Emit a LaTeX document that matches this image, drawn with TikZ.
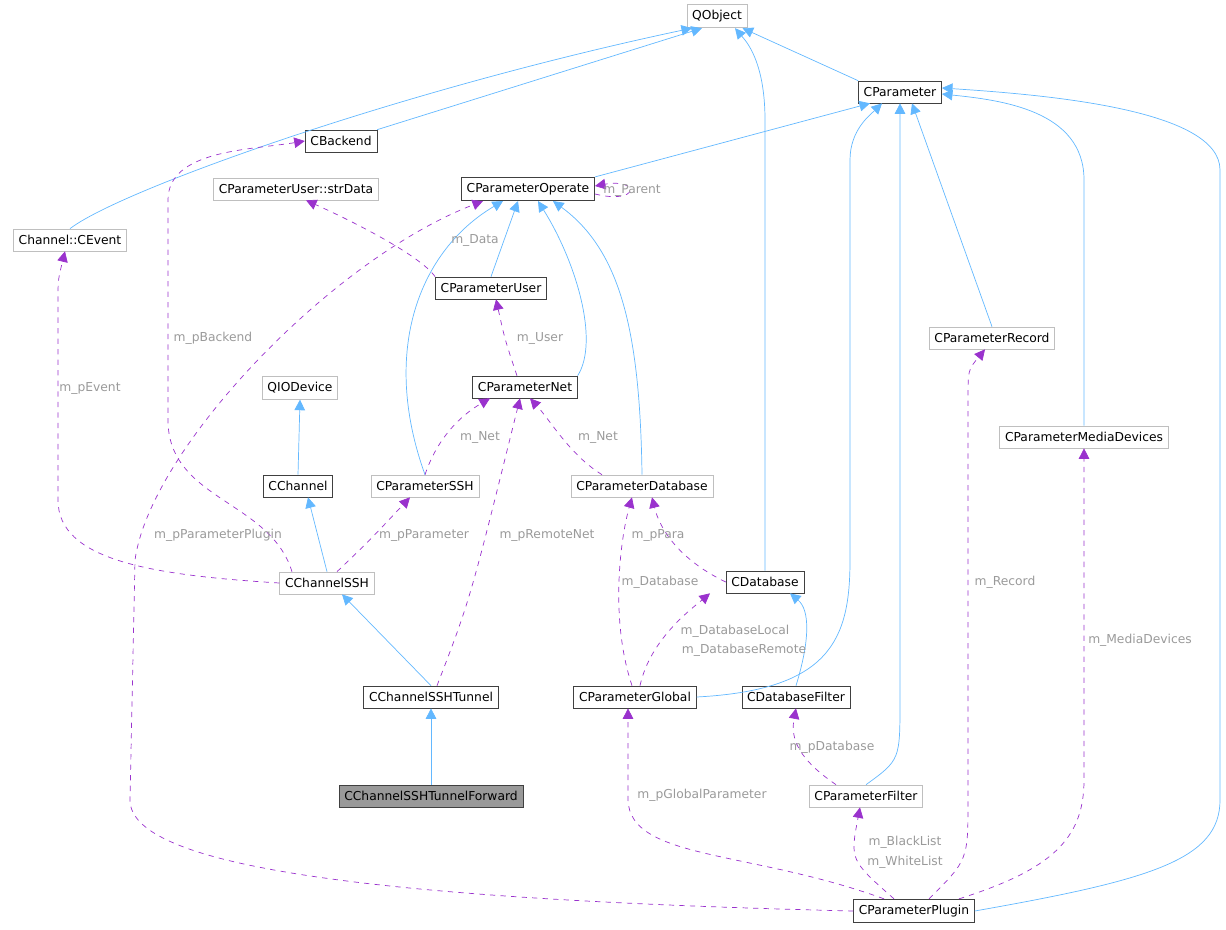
\documentclass[tikz,border=0pt]{standalone}
\usepackage{fontspec}
\setmainfont{DejaVu Sans}
\usetikzlibrary{arrows.meta,calc}
\definecolor{inhblue}{HTML}{63B8FF}
\definecolor{usepurple}{HTML}{9A32CD}
\definecolor{lblgray}{HTML}{9A9A9A}
\definecolor{boxdark}{HTML}{404040}
\definecolor{boxlight}{HTML}{BFBFBF}
\tikzset{
  cls/.style={draw=boxdark,rectangle,minimum height=12.5pt,inner xsep=3pt,font=\fontsize{7}{8}\selectfont},
  ext/.style={cls,draw=boxlight},
  inh/.style={draw=inhblue,-{Triangle[length=6pt,width=6pt]}},
  usg/.style={draw=usepurple,dashed,-{Triangle[length=6pt,width=6pt]}},
  lbl/.style={text=lblgray,font=\fontsize{7}{8}\selectfont}
}
\begin{document}
\begin{tikzpicture}[x=0.02cm,y=-0.02cm]
\useasboundingbox (0,0) rectangle (1226,929);

%CLASSES
\node[ext] (QObject) at (717,16) {QObject};
\node[cls] (CParameter) at (900,92) {CParameter};
\node[cls] (CBackend) at (341,141) {CBackend};
\node[cls] (CParameterOperate) at (528,189) {CParameterOperate};
\node[ext] (strData) at (296,189) {CParameterUser::strData};
\node[ext] (CEvent) at (70,240) {Channel::CEvent};
\node[cls] (CParameterUser) at (491,288) {CParameterUser};
\node[ext] (CParameterRecord) at (992,338) {CParameterRecord};
\node[ext] (QIODevice) at (300,388) {QIODevice};
\node[cls] (CParameterNet) at (525,387) {CParameterNet};
\node[ext] (CParameterMediaDevices) at (1084,437) {CParameterMediaDevices};
\node[cls] (CChannel) at (298,486) {CChannel};
\node[ext] (CParameterSSH) at (425,486) {CParameterSSH};
\node[ext] (CParameterDatabase) at (642,486) {CParameterDatabase};
\node[ext] (CChannelSSH) at (327,583) {CChannelSSH};
\node[cls] (CDatabase) at (765,582) {CDatabase};
\node[cls] (CChannelSSHTunnel) at (431,697) {CChannelSSHTunnel};
\node[cls] (CParameterGlobal) at (635,697) {CParameterGlobal};
\node[cls] (CDatabaseFilter) at (796,697) {CDatabaseFilter};
\node[cls,fill=black!40] (CChannelSSHTunnelForward) at (431,796) {CChannelSSHTunnelForward};
\node[ext] (CParameterFilter) at (866,796) {CParameterFilter};
\node[cls] (CParameterPlugin) at (914,911) {CParameterPlugin};

%INHERITANCE
\draw[inh] (CEvent.north) .. controls (120,190) and (400,90) .. ($(QObject.south)+(-25,0)$);
\draw[inh] (CBackend.north east) -- ($(QObject.south)+(-15,0)$);
\draw[inh] (CDatabase.north) -- (765,120) .. controls (765,60) and (745,40) .. ($(QObject.south)+(18,0)$);
\draw[inh] (CParameter.north west) -- ($(QObject.south east)+(-5,0)$);
\draw[inh] (CParameterOperate.north east) -- ($(CParameter.south)+(-30,0)$);
\draw[inh] (CParameterUser.north) -- ($(CParameterOperate.south)+(-10,0)$);
\draw[inh] (CParameterNet.north east) .. controls (600,340) and (575,260) .. ($(CParameterOperate.south)+(10,0)$);
\draw[inh] (CParameterSSH.north) .. controls (380,350) and (420,250) .. ($(CParameterOperate.south)+(-25,0)$);
\draw[inh] (CParameterDatabase.north) .. controls (640,330) and (620,250) .. ($(CParameterOperate.south)+(25,0)$);
\draw[inh] (CParameterGlobal.east) .. controls (830,690) and (850,640) .. (850,560) -- (850,160) .. controls (850,130) and (870,115) .. ($(CParameter.south)+(-18,0)$);
\draw[inh] (CParameterFilter.north) .. controls (900,760) .. (900,700) -- (CParameter.south);
\draw[inh] (CParameterRecord.north) -- ($(CParameter.south)+(12,0)$);
\draw[inh] (CParameterMediaDevices.north) -- (1084,180) .. controls (1084,110) and (1000,100) .. ($(CParameter.east)+(0,2)$);
\draw[inh] (CParameterPlugin.east) .. controls (1150,880) and (1220,860) .. (1220,800) -- (1220,170) .. controls (1220,110) and (1050,95) .. ($(CParameter.east)+(0,-4)$);
\draw[inh] (CChannel.north) -- (QIODevice.south);
\draw[inh] (CChannelSSH.north) -- ($(CChannel.south)+(10,0)$);
\draw[inh] (CChannelSSHTunnel.north) -- ($(CChannelSSH.south)+(15,0)$);
\draw[inh] (CChannelSSHTunnelForward.north) -- (CChannelSSHTunnel.south);
\draw[inh] (CDatabaseFilter.north) .. controls (810,640) and (810,610) .. ($(CDatabase.south)+(25,0)$);

%USAGE
\draw[usg] ($(CParameterOperate.east)+(0,5)$) .. controls (640,205) and (640,178) .. ($(CParameterOperate.east)+(0,-3)$);
\draw[usg] (CParameterUser.north west) .. controls (420,255) and (350,220) .. ($(strData.south)+(10,0)$);
\draw[usg] ($(CParameterNet.north)+(-8,0)$) .. controls (505,340) .. ($(CParameterUser.south)+(5,0)$);
\draw[usg] (CParameterSSH.north) .. controls (440,430) and (470,410) .. ($(CParameterNet.south)+(-35,0)$);
\draw[usg] ($(CParameterDatabase.north)+(-40,0)$) .. controls (570,455) and (550,420) .. ($(CParameterNet.south)+(5,0)$);
\draw[usg] ($(CChannelSSH.north)+(-35,0)$) .. controls (270,500) and (168,500) .. (168,420) -- (168,200) .. controls (168,150) and (250,150) .. (CBackend.west);
\draw[usg] (CChannelSSH.west) .. controls (150,575) and (58,560) .. (58,500) -- (58,300) .. controls (58,280) .. ($(CEvent.south)+(-5,0)$);
\draw[usg] ($(CChannelSSH.north)+(10,0)$) .. controls (370,540) .. ($(CParameterSSH.south)+(-15,0)$);
\draw[usg] ($(CChannelSSHTunnel.north)+(6,0)$) .. controls (470,600) .. ($(CParameterNet.south)+(-5,0)$);
\draw[usg] (CDatabase.west) .. controls (680,560) and (660,530) .. ($(CParameterDatabase.south)+(10,0)$);
\draw[usg] ($(CParameterGlobal.north)+(-3,0)$) .. controls (610,620) and (620,540) .. ($(CParameterDatabase.south)+(-10,0)$);
\draw[usg] ($(CParameterGlobal.north)+(5,0)$) .. controls (650,640) and (690,610) .. ($(CDatabase.south)+(-55,0)$);
\draw[usg] ($(CParameterFilter.north)+(-30,0)$) .. controls (800,760) and (790,740) .. (CDatabaseFilter.south);
\draw[usg] (CParameterPlugin.west) .. controls (400,900) and (130,870) .. (130,800) -- (135,560) .. controls (150,450) and (330,260) .. ($(CParameterOperate.south)+(-45,0)$);
\draw[usg] ($(CParameterPlugin.north)+(-30,0)$) .. controls (750,850) and (630,860) .. (628,800) -- ($(CParameterGlobal.south)+(-7,0)$);
\draw[usg] ($(CParameterPlugin.north)+(-20,0)$) .. controls (850,860) .. ($(CParameterFilter.south)+(-6,0)$);
\draw[usg] ($(CParameterPlugin.north)+(15,0)$) .. controls (968,860) .. (968,800) -- (968,400) .. controls (968,370) .. ($(CParameterRecord.south)+(-7,0)$);
\draw[usg] ($(CParameterPlugin.north)+(45,0)$) .. controls (1050,870) and (1084,840) .. (1084,780) -- (CParameterMediaDevices.south);

%LABELS
\node[lbl] (lParent) at (632,190) {m\_Parent};
\node[lbl] (lData) at (475,240) {m\_Data};
\node[lbl] (lBackend) at (213,338) {m\_pBackend};
\node[lbl] (lEvent) at (90,388) {m\_pEvent};
\node[lbl] (lUser) at (540,338) {m\_User};
\node[lbl] (lNetA) at (480,437) {m\_Net};
\node[lbl] (lNetB) at (598,437) {m\_Net};
\node[lbl] (lPlugin) at (218,535) {m\_pParameterPlugin};
\node[lbl] (lParameter) at (424,535) {m\_pParameter};
\node[lbl] (lRemoteNet) at (547,535) {m\_pRemoteNet};
\node[lbl] (lPara) at (658,535) {m\_pPara};
\node[lbl] (lDatabase) at (660,582) {m\_Database};
\node[lbl] (lLocal) at (735,631) {m\_DatabaseLocal};
\node[lbl] (lRemote) at (744,650) {m\_DatabaseRemote};
\node[lbl] (lRecord) at (1005,582) {m\_Record};
\node[lbl] (lMedia) at (1140,640) {m\_MediaDevices};
\node[lbl] (lpDatabase) at (832,747) {m\_pDatabase};
\node[lbl] (lGlobal) at (702,795) {m\_pGlobalParameter};
\node[lbl] (lBlack) at (905,842) {m\_BlackList};
\node[lbl] (lWhite) at (905,862) {m\_WhiteList};
\end{tikzpicture}
\end{document}
